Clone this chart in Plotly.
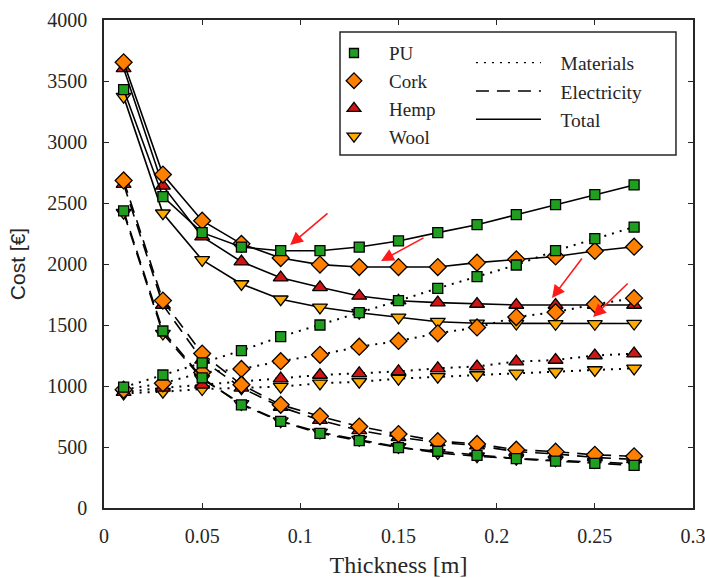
import plotly.graph_objects as go

# ---------------- data ----------------
thickness = [0.01, 0.03, 0.05, 0.07, 0.09, 0.11, 0.13, 0.15, 0.17, 0.19, 0.21, 0.23, 0.25, 0.27]

pu_materials = [990, 1090, 1190, 1290, 1404, 1500, 1601, 1699, 1801, 1896, 1992, 2109, 2208, 2303]
pu_electricity = [2435, 1451, 1066, 846, 710, 612, 552, 495, 465, 432, 405, 385, 366, 350]
pu_total = [3430, 2552, 2257, 2139, 2109, 2109, 2139, 2189, 2257, 2322, 2404, 2486, 2568, 2648]

cork_materials = [970, 1022, 1110, 1140, 1203, 1256, 1322, 1369, 1432, 1480, 1565, 1605, 1670, 1720]
cork_electricity = [2685, 1700, 1266, 1010, 846, 752, 668, 606, 548, 525, 478, 462, 436, 424]
cork_total = [3653, 2733, 2355, 2165, 2049, 1995, 1975, 1975, 1975, 2011, 2038, 2062, 2107, 2142]

hemp_materials = [950, 985, 1010, 1035, 1060, 1090, 1104, 1120, 1145, 1160, 1200, 1213, 1250, 1265]
hemp_electricity = [2655, 1664, 1214, 985, 828, 720, 636, 580, 538, 512, 462, 443, 414, 399]
hemp_total = [3604, 2640, 2224, 2019, 1888, 1809, 1738, 1699, 1683, 1672, 1664, 1664, 1664, 1664]

wool_materials = [940, 953, 975, 983, 995, 1022, 1035, 1060, 1076, 1090, 1104, 1117, 1131, 1145]
wool_electricity = [2420, 1430, 1058, 853, 712, 620, 560, 500, 452, 424, 404, 391, 377, 363]
wool_total = [3372, 2416, 2033, 1836, 1711, 1645, 1601, 1563, 1527, 1514, 1512, 1510, 1510, 1512]

series_names = ["PU", "Cork", "Hemp", "Wool"]
cost_types = ["Materials", "Electricity", "Total"]

# optimum arrows: (head x, head y, tail x, tail y)
arrows = [
    (0.0948, 2156, 0.1146, 2426),
    (0.1411, 2025, 0.1635, 2221),
    (0.2282, 1721, 0.2440, 2057),
    (0.2491, 1566, 0.2675, 1852),
]

# ---------------- styles ----------------
styles = {
    "PU": dict(symbol="square", size=10, color="#1f9e1f"),
    "Cork": dict(symbol="diamond", size=13, color="#ff8000"),
    "Hemp": dict(symbol="triangle-up", size=13, color="#d01515"),
    "Wool": dict(symbol="triangle-down", size=13, color="#ffaa00"),
}
dashes = {"Materials": "2px,6px", "Electricity": "13px,8px", "Total": "solid"}
line_w = {"Materials": 2, "Electricity": 1.6, "Total": 1.6}

data = {
    "PU": [pu_materials, pu_electricity, pu_total],
    "Cork": [cork_materials, cork_electricity, cork_total],
    "Hemp": [hemp_materials, hemp_electricity, hemp_total],
    "Wool": [wool_materials, wool_electricity, wool_total],
}

fig = go.Figure()

draw_order = ["Wool", "Hemp", "Cork", "PU"]
for name in draw_order:
    st = styles[name]
    for ctype, vals in zip(cost_types, data[name]):
        fig.add_trace(go.Scatter(
            x=thickness, y=vals, mode="lines+markers",
            line=dict(color="black", width=line_w[ctype], dash=dashes[ctype]),
            marker=dict(symbol=st["symbol"], size=st["size"], color=st["color"],
                        line=dict(color="black", width=1.3)),
            showlegend=False, hoverinfo="skip",
        ))

NB = "\u00a0"
# legend 1: materials (markers)
for name in series_names:
    st = styles[name]
    fig.add_trace(go.Scatter(
        x=[None], y=[None], mode="markers", name=name,
        marker=dict(symbol=st["symbol"], size=st["size"] - 1, color=st["color"],
                    line=dict(color="black", width=1.3)),
        legend="legend",
    ))
# legend 2: cost types (lines)
for ctype in cost_types:
    fig.add_trace(go.Scatter(
        x=[None], y=[None], mode="lines", name=NB * 3 + ctype,
        line=dict(color="black", width=1.2 if ctype == "Materials" else 1.6, dash=dashes[ctype]),
        legend="legend2",
    ))

for hx, hy, tx, ty in arrows:
    fig.add_annotation(
        x=hx, y=hy, ax=tx, ay=ty, xref="x", yref="y", axref="x", ayref="y",
        showarrow=True, arrowhead=2, arrowsize=1.6, arrowwidth=1.6,
        arrowcolor="#ff1a1a", text="",
    )

# legend box
fig.add_shape(type="rect", xref="paper", yref="paper",
              x0=0.4007, x1=0.9711, y0=0.7234, y1=0.9754,
              line=dict(color="#262626", width=1.5), fillcolor="rgba(0,0,0,0)")

serif = "Liberation Serif"
sans = "Liberation Sans"
axis_common = dict(
    showline=True, linecolor="#262626", linewidth=1.5, mirror="ticks",
    ticks="inside", ticklen=5, tickwidth=1.2, tickcolor="#262626",
    showgrid=False, zeroline=False, automargin=False, ticklabeloverflow="allow",
    tickfont=dict(family=serif, size=20, color="#262626"),
)

fig.update_layout(
    width=705, height=578,
    margin=dict(l=104, r=12, t=20, b=70),
    paper_bgcolor="white", plot_bgcolor="white",
    font=dict(family=serif, color="#262626"),
    xaxis=dict(range=[0, 0.3], dtick=0.05, tick0=0, ticklabelstandoff=9,
               title=dict(text="Thickness [m]", font=dict(family=serif, size=24, color="#262626"),
                          standoff=10),
               **axis_common),
    yaxis=dict(range=[0, 4000], dtick=500, tick0=0, ticklabelstandoff=11,
               title=dict(text="Cost [€]", font=dict(family=sans, size=21, color="#262626"),
                          standoff=16),
               **axis_common),
    legend=dict(x=0.365, y=0.971, xanchor="left", yanchor="top",
                bgcolor="rgba(0,0,0,0)", borderwidth=0, itemwidth=60,
                font=dict(family=serif, size=19, color="#262626"),
                tracegroupgap=0),
    legend2=dict(x=0.623, y=0.952, xanchor="left", yanchor="top",
                 bgcolor="rgba(0,0,0,0)", borderwidth=0, itemwidth=65,
                 font=dict(family=serif, size=19.5, color="#262626")),
)

fig.write_html("out.html")
